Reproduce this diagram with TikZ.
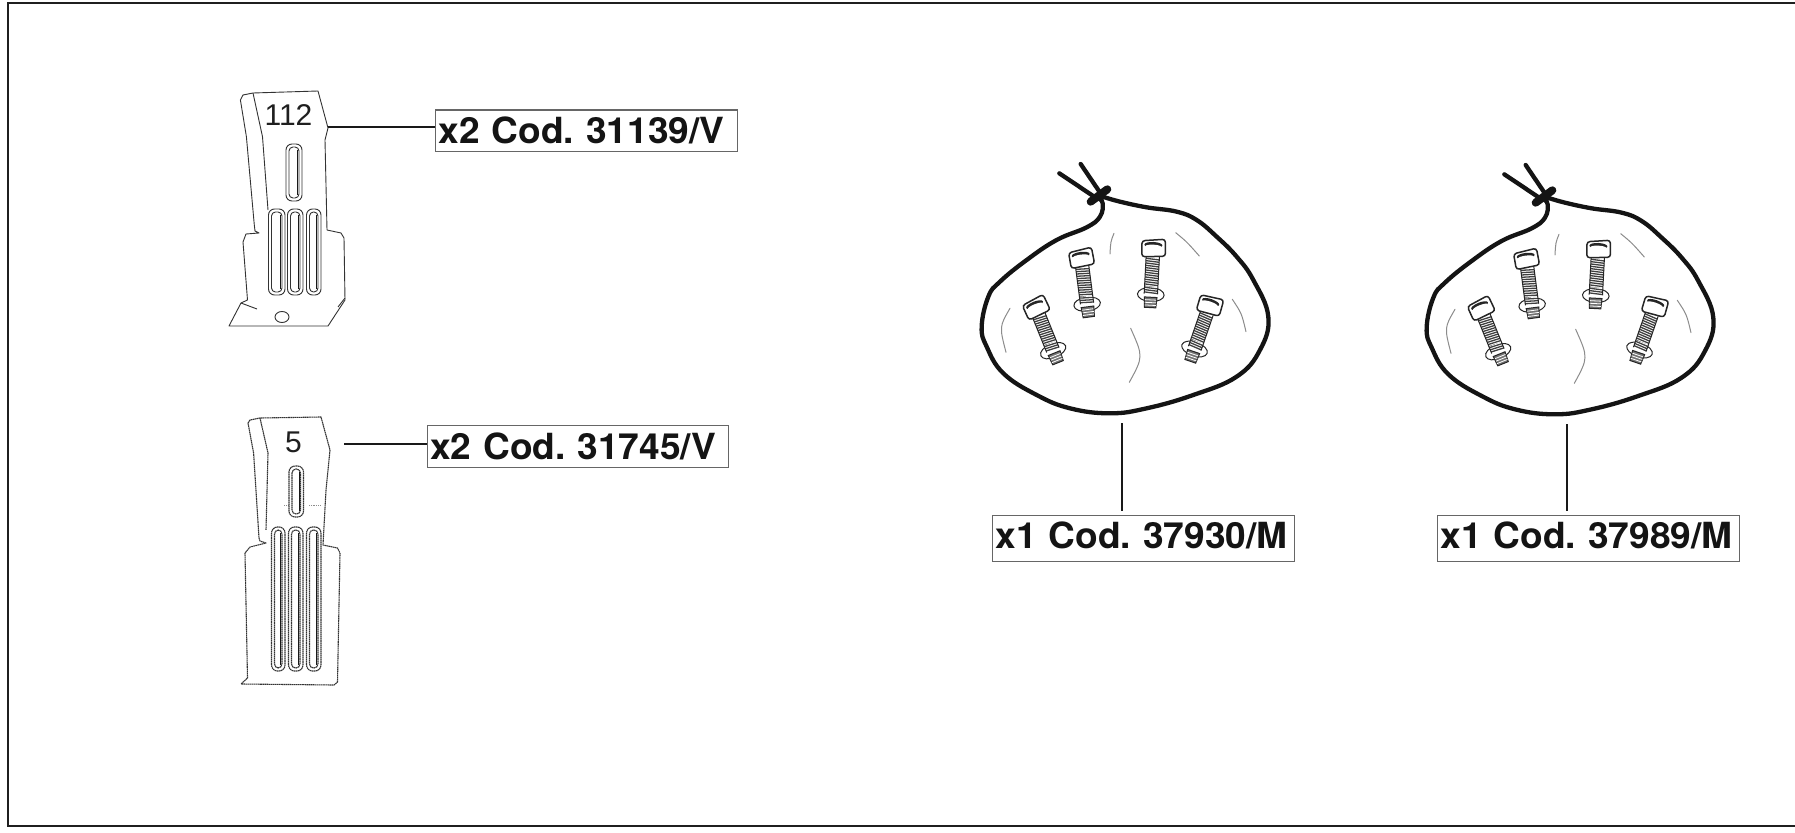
\documentclass[tikz,border=0pt]{standalone}
\usepackage{fontspec}
\setmainfont{Liberation Sans}
\newfontfamily\labfont[FakeStretch=1.03]{TeX Gyre Heros}
\tikzset{
  codebox/.style={draw=black!60,line width=1.1pt,fill=white,minimum height=41.5pt,minimum width=301.5pt,text width=295.5pt,inner xsep=3pt,inner ysep=0pt,anchor=north west,font=\labfont\bfseries\frenchspacing\fontsize{36}{36}\selectfont,text=black!92,align=left},
  codeboxtall/.style={codebox,minimum height=46pt},
  leader/.style={draw=black!90,line width=2pt},
  partnum/.style={font=\fontsize{30}{30}\selectfont,text=black!88,inner sep=0pt},
  plate/.style={draw=black!80,line width=0.9pt,line join=round},
  plateb/.style={draw=black!80,line width=1.1pt,dash pattern=on 1.6pt off 0.5pt,line join=round},
  bagline/.style={draw=black!92,line width=4.3pt,line cap=round,line join=round},
  crease/.style={draw=black!45,line width=1pt,line cap=round},
}
\newcommand{\slotshape}[6]{%
  \draw[#1,rounded corners=6pt] (#2,#4) rectangle (#3,#5);
  \draw[#1,rounded corners=4pt] ({#2+3},{#4+3}) rectangle ({#3-3},{#5-3});
  \draw[draw=black!90,line width=#6] ({#3-4.5},{#4+6}) -- ({#3-4.5},{#5-6});
}
\newcommand{\boltpart}[3]{%
  \begin{scope}[shift={(#1,#2)},rotate=#3]
    \fill[white] (-21,45) rectangle (21,160);
    \foreach \k in {56,63,...,150}{\draw[black!75,line width=1.3pt] (-20,\k) -- (20,{\k+3});}
    \draw[black!85,line width=1pt,fill=white] (0,164) ellipse [x radius=40,y radius=21];
    \fill[white] (-20,140) rectangle (20,164);
    \foreach \k in {143,150,157}{\draw[black!75,line width=1.3pt] (-20,\k) -- (20,{\k+3});}
    \draw[black!85,line width=1pt] (-20,50) -- (-20,162) (20,50) -- (20,162);
    \draw[black!85,line width=1pt,fill=black!55] (-19,172) -- (-17,203) -- (17,203) -- (19,172) -- cycle;
    \foreach \k in {180,188,196}{\draw[white,line width=0.8pt] (-17,\k) -- (17,\k);}
    \draw[black!85,line width=1.5pt,fill=white,rounded corners=3pt] (-35,4) -- (35,-4) -- (38,47) -- (-33,52) -- cycle;
    \fill[black!85] (0,15) ellipse [x radius=27,y radius=9];
    \fill[white] (0,20) ellipse [x radius=24,y radius=6];
  \end{scope}
}
\newcommand{\bagdrawing}[2]{%
  \begin{scope}[shift={(#1,#2)},x=0.3333pt,y=-0.3333pt]
    \draw[bagline] plot[smooth,tension=0.7] coordinates {(428,140) (480,155) (560,172) (650,185) (710,210) (770,260) (830,320) (880,390) (925,500) (900,600) (830,680) (700,735) (560,775) (450,790) (330,775) (230,735) (130,670) (80,590) (65,530) (85,440) (120,395) (200,330) (290,270) (380,232) (420,200) (428,160) (415,145)};
    \draw[bagline] (298,70) -- (410,145);
    \draw[bagline] (362,42) -- (425,135);
    \draw[draw=black!92,line width=8pt,line cap=round] (392,155) -- (442,118);
    \draw[crease] (462,250) .. controls (452,275) .. (450,312);
    \draw[crease] (647,248) .. controls (680,275) .. (718,318);
    \draw[crease] (150,475) .. controls (118,530) .. (138,607);
    \draw[crease] (817,448) .. controls (845,490) .. (858,545);
    \draw[crease] (512,535) .. controls (550,620) .. (508,697);
    \boltpart{360}{300}{7.5}
    \boltpart{581}{270}{-3}
    \boltpart{218}{450}{22}
    \boltpart{757}{442}{-19}
  \end{scope}
}
\begin{document}
\begin{tikzpicture}[x=1pt,y=-1pt]
\useasboundingbox (0,0) rectangle (1795,832);
\fill[white] (0,0) rectangle (1795,832);
% frame
\coordinate (fa) at (1795,3);
\coordinate (fb) at (8,3);
\coordinate (fc) at (8,826);
\coordinate (fd) at (1795,826);
\draw[draw=black!88,line width=2.6pt] (fa) -- (fb) -- (fc) -- (fd);
% upper plate
\draw[plate] (240.4,100) -- (243,95) -- (253,93) -- (318,91) -- (328,128) -- (325,140) -- (327,230) -- (341,233) -- (344,238) -- (345,300) -- (328,326) -- (229,326) -- (241,303) -- (247.5,300) -- (243,242) -- (246,234) -- (259,233) -- (255,231) -- (254.3,225) -- (246.4,136.7) -- cycle;
\draw[plate] (253,93) -- (262.5,136.7) -- (268,210);
\draw[plate] (241,303) -- (257,309);
\draw[plate] (338,307) -- (345,298);
\slotshape{plate}{286}{302}{144}{201}{0.9pt}
\slotshape{plate}{268.5}{285}{209}{295}{1.2pt}
\slotshape{plate}{287.5}{303}{209}{295}{1.2pt}
\slotshape{plate}{306.5}{321}{209}{295}{1.2pt}
\draw[plate] (282,317) ellipse [x radius=7,y radius=5.5];
\node[partnum] (n112) at (288.5,115) {112};
\coordinate (la) at (328,127.3);
\node[codebox] (b1) at (435,109.5) {\raisebox{1pt}{x2 Cod. 31139/V}};
\draw[leader] (la) -- (la -| b1.west);
% lower plate
\draw[plateb] (248,423) -- (250,420) -- (260,418) -- (321,417) -- (330,450) -- (326,490) -- (323,545) -- (337.5,548) -- (340,553) -- (337.5,682) -- (334,685) -- (241,684) -- (247.5,678) -- (245,553) -- (250,547) -- (266,543) -- (260,541) -- (259,538) -- (253.6,453) -- cycle;
\draw[plateb] (260,418) -- (268,453) -- (266,530);
\draw[draw=black!45,line width=0.8pt,densely dotted] (284,505) -- (288,505) (309,505) -- (321,505);
\slotshape{plateb}{289}{303.5}{466}{517}{0.9pt}
\slotshape{plateb}{271.5}{285}{527}{671}{1.8pt}
\slotshape{plateb}{288.5}{303}{527}{671}{1.8pt}
\slotshape{plateb}{306.5}{321}{527}{671}{1.8pt}
\node[partnum] (n5) at (293.5,442) {5};
\coordinate (lb) at (344,444.3);
\node[codebox] (b2) at (426.5,425) {\raisebox{1pt}{x2 Cod. 31745/V}};
\draw[leader] (lb) -- (lb -| b2.west);
% bags
\bagdrawing{960}{150}
\bagdrawing{1405}{151}
\node[codeboxtall] (b3) at (992,514.7) {\raisebox{6.5pt}{x1 Cod. 37930/M}};
\node[codeboxtall] (b4) at (1437,515.3) {\raisebox{6.5pt}{x1 Cod. 37989/M}};
\coordinate (lc) at (1121.7,423);
\coordinate (ld) at (1566.6,424);
\draw[leader,shorten >=4pt] (lc) -- (lc |- b3.north);
\draw[leader,shorten >=4pt] (ld) -- (ld |- b4.north);
\end{tikzpicture}
\end{document}
